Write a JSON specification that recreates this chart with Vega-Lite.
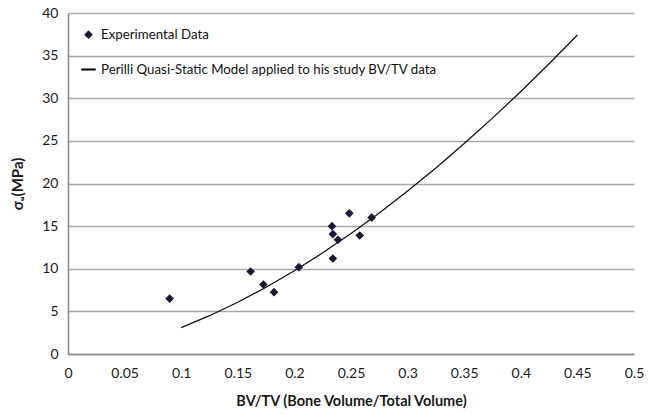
{
  "$schema": "https://vega.github.io/schema/vega-lite/v6.json",
  "autosize": "none",
  "width": 566,
  "height": 341,
  "padding": {"left": 68, "top": 13, "right": 15, "bottom": 60},
  "background": "white",
  "config": {
    "font": "Lato",
    "view": {"stroke": null},
    "axis": {"labelFont": "Lato", "titleFont": "Lato", "labelColor": "#1a1a1a", "titleColor": "#1a1a1a"},
    "legend": {
      "orient": "none", "legendX": 12, "legendY": 15, "title": null,
      "labelFontSize": 13.3, "labelColor": "#111111", "labelFont": "Lato", "labelLimit": 0,
      "rowPadding": 20, "labelOffset": 4, "symbolStrokeColor": "#000000"
    }
  },
  "datasets": {
    "points": [
      {"bvtv": 0.0898, "sigma": 6.5, "series": "Experimental Data"},
      {"bvtv": 0.1613, "sigma": 9.68, "series": "Experimental Data"},
      {"bvtv": 0.1726, "sigma": 8.15, "series": "Experimental Data"},
      {"bvtv": 0.182, "sigma": 7.25, "series": "Experimental Data"},
      {"bvtv": 0.2039, "sigma": 10.19, "series": "Experimental Data"},
      {"bvtv": 0.2332, "sigma": 15.0, "series": "Experimental Data"},
      {"bvtv": 0.234, "sigma": 14.07, "series": "Experimental Data"},
      {"bvtv": 0.2385, "sigma": 13.4, "series": "Experimental Data"},
      {"bvtv": 0.234, "sigma": 11.2, "series": "Experimental Data"},
      {"bvtv": 0.2485, "sigma": 16.5, "series": "Experimental Data"},
      {"bvtv": 0.2577, "sigma": 13.9, "series": "Experimental Data"},
      {"bvtv": 0.2683, "sigma": 16.0, "series": "Experimental Data"}
    ],
    "model": [
      {"bvtv": 0.1, "sigma": 3.1},
      {"bvtv": 0.125, "sigma": 4.49},
      {"bvtv": 0.15, "sigma": 6.07},
      {"bvtv": 0.175, "sigma": 7.83},
      {"bvtv": 0.2, "sigma": 9.77},
      {"bvtv": 0.225, "sigma": 11.87},
      {"bvtv": 0.25, "sigma": 14.14},
      {"bvtv": 0.275, "sigma": 16.55},
      {"bvtv": 0.3, "sigma": 19.12},
      {"bvtv": 0.325, "sigma": 21.83},
      {"bvtv": 0.35, "sigma": 24.68},
      {"bvtv": 0.375, "sigma": 27.67},
      {"bvtv": 0.4, "sigma": 30.79},
      {"bvtv": 0.425, "sigma": 34.04},
      {"bvtv": 0.45, "sigma": 37.42}
    ]
  },
  "encoding": {
    "x": {
      "field": "bvtv", "type": "quantitative",
      "scale": {"domain": [0, 0.5], "nice": false},
      "axis": {
        "title": "BV/TV (Bone Volume/Total Volume)",
        "values": [0, 0.05, 0.1, 0.15, 0.2, 0.25, 0.3, 0.35, 0.4, 0.45, 0.5],
        "format": "~g",
        "grid": false, "ticks": false, "labelPadding": 12,
        "labelFontSize": 14, "titleFontSize": 14.5, "titleFontWeight": "bold",
        "titlePadding": 14, "domainColor": "#888888", "domainWidth": 1.5,
        "labelFlush": false
      }
    },
    "y": {
      "field": "sigma", "type": "quantitative",
      "scale": {"domain": [0, 40], "nice": false},
      "axis": {
        "title": "σᵤ(MPa)",
        "values": [0, 5, 10, 15, 20, 25, 30, 35, 40],
        "ticks": false, "labelPadding": 10,
        "labelFontSize": 14, "titleFontSize": 15, "titleFontWeight": "bold",
        "titlePadding": 16, "domainColor": "#888888", "domainWidth": 1.5,
        "gridColor": "#a6a6a6", "gridWidth": 1.5, "labelFlush": false
      }
    }
  },
  "layer": [
    {
      "data": {"name": "model"},
      "mark": {"type": "line", "color": "#111111", "strokeWidth": 1.3},
      "encoding": {}
    },
    {
      "data": {"name": "points"},
      "mark": {"type": "point", "filled": true, "opacity": 1},
      "encoding": {
        "color": {
          "field": "series", "type": "nominal",
          "scale": {"domain": ["Experimental Data", "Perilli Quasi-Static Model applied to his study BV/TV data"], "range": ["#1a1633", "#000000"]}
        },
        "shape": {
          "field": "series", "type": "nominal",
          "scale": {"domain": ["Experimental Data", "Perilli Quasi-Static Model applied to his study BV/TV data"], "range": ["diamond", "stroke"]}
        },
        "size": {
          "field": "series", "type": "nominal",
          "scale": {"domain": ["Experimental Data", "Perilli Quasi-Static Model applied to his study BV/TV data"], "range": [75, 210]}
        },
        "strokeWidth": {
          "field": "series", "type": "nominal",
          "scale": {"domain": ["Experimental Data", "Perilli Quasi-Static Model applied to his study BV/TV data"], "range": [0, 2]}
        }
      }
    }
  ]
}
